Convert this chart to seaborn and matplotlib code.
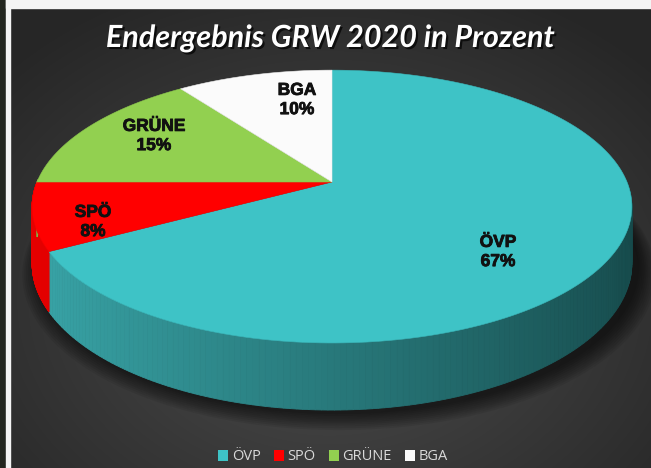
import numpy as np
import matplotlib
matplotlib.use("Agg")
import matplotlib.pyplot as plt
from matplotlib.patches import Polygon, Rectangle, Patch
import matplotlib.patheffects as pe
import seaborn as sns

# ---------------- data ----------------
parties = ["ÖVP", "SPÖ", "GRÜNE", "BGA"]
percent = [67, 8, 15, 10]
top_colors = ["#3ec3c6", "#ff0000", "#92d050", "#fbfbfb"]
title = "Endergebnis GRW 2020 in Prozent"

sns.set_style("dark")
plt.rcParams["font.family"] = ["Liberation Sans", "DejaVu Sans"]

W, H = 651, 468
fig = plt.figure(figsize=(W / 100, H / 100), dpi=100, facecolor="#262626")
ax = fig.add_axes([0, 0, 1, 1])
ax.set_xlim(0, W)
ax.set_ylim(H, 0)
ax.axis("off")

# ---------------- background ----------------
yy, xx = np.mgrid[0:H + 2, 0:W + 2]
d = np.sqrt(((xx - 330) / 430.0) ** 2 + ((yy - 300) / 330.0) ** 2)
g = np.clip(0.305 - 0.15 * d, 0.15, 0.30)
bg = np.dstack([g, g, g])
ax.imshow(bg, extent=[-1, W + 1, H + 1, -1], zorder=0, aspect="auto", interpolation="bilinear")
ax.add_patch(Rectangle((-1, -1), 7, H + 2, color="#23261f", zorder=1))
ax.add_patch(Rectangle((6, -1), 4, H + 2, color="#f4f4f4", zorder=1))
ax.add_patch(Rectangle((6, -1), W, 9, color="#f4f4f4", zorder=1))

# ---------------- 3D pie geometry ----------------
cx, cy = 332.0, 182.0
R, RY, K, DEPTH = 295.0, 132.0, 0.18, 55.0


def proj(theta, r=1.0, z=0.0):
    u = r * np.cos(theta)
    v = r * np.sin(theta)
    s = 1.0 / (1.0 + K * v)
    return cx + R * u * s, cy - RY * v * s + z * s


def shade(c, f):
    c = np.array(matplotlib.colors.to_rgb(c))
    return tuple(np.clip(c * f, 0, 1))


total = float(sum(percent))
starts, ends = [], []
a = np.pi / 2
for p in percent:
    b = a - 2 * np.pi * p / total
    starts.append(a)
    ends.append(b)
    a = b

# shadow
th = np.linspace(0, 2 * np.pi, 200)
for i in range(10):
    e = 1 + i * 0.006
    bx, by = proj(th, e, DEPTH)
    ax.add_patch(Polygon(np.column_stack([bx + 7, by + 4 + i * 0.5]), closed=True,
                         color="black", alpha=0.07, lw=0, zorder=2))

# side walls (front half only)
side_colors = {0: ("#3aa8ab", "#164a4b"), 1: ("#e60000", "#b00000"),
               2: ("#7fb845", "#5e8a30"), 3: ("#e0e0e0", "#b0b0b0")}
for i in range(len(percent)):
    a0, a1 = ends[i], starts[i]
    ts = np.linspace(a0, a1, 240)
    for j in range(len(ts) - 1):
        t0, t1 = ts[j], ts[j + 1]
        tm = 0.5 * (t0 + t1)
        if np.sin(tm) > 0.02:
            continue
        x0, y0 = proj(t0)
        x1, y1 = proj(t1)
        x2, y2 = proj(t1, 1, DEPTH)
        x3, y3 = proj(t0, 1, DEPTH)
        f = (np.cos(tm) + 1) / 2
        light, dark = side_colors[i]
        cl = np.array(matplotlib.colors.to_rgb(light))
        cd = np.array(matplotlib.colors.to_rgb(dark))
        col = cl * (1 - f) + cd * f
        ax.add_patch(Polygon([(x0, y0), (x1, y1), (x2, y2), (x3, y3)], closed=True,
                             facecolor=col, edgecolor=col, lw=0.6, zorder=3))

# top faces
for i in range(len(percent)):
    ts = np.linspace(starts[i], ends[i], 200)
    px, py = proj(ts)
    pts = [(cx, cy)] + list(zip(px, py))
    ax.add_patch(Polygon(pts, closed=True, facecolor=top_colors[i],
                         edgecolor=shade(top_colors[i], 0.95), lw=0.4, zorder=4))

# data labels
label_pos = [(498, 252), (93, 222), (154, 136), (297, 100)]
for name, p, (lx, ly) in zip(parties, percent, label_pos):
    ax.text(lx, ly, f"{name}\n{p}%", ha="center", va="center", fontsize=12.5,
            fontweight="bold", color="#111111", linespacing=1.35, zorder=6,
            path_effects=[pe.withStroke(linewidth=0.6, foreground="#111111")])

# title
ax.text(330, 38, title, ha="center", va="center", fontsize=22, color="white",
        fontweight="bold", fontstyle="italic", family=["Lato", "DejaVu Sans"], zorder=6,
        path_effects=[pe.withSimplePatchShadow(offset=(1.5, -1.5), shadow_rgbFace="black", alpha=0.7)])

# legend
handles = [Patch(facecolor=c, edgecolor="none", label=n) for n, c in zip(parties, top_colors)]
leg = ax.legend(handles=handles, loc="center", bbox_to_anchor=(333 / W, 1 - 457 / H),
                ncol=4, frameon=False, handlelength=0.7, handleheight=0.7,
                handletextpad=0.25, columnspacing=0.9, labelcolor="#d9d9d9",
                prop={"family": ["Open Sans", "DejaVu Sans"], "size": 10.5})

fig.savefig("out.png", dpi=100, facecolor=fig.get_facecolor())
